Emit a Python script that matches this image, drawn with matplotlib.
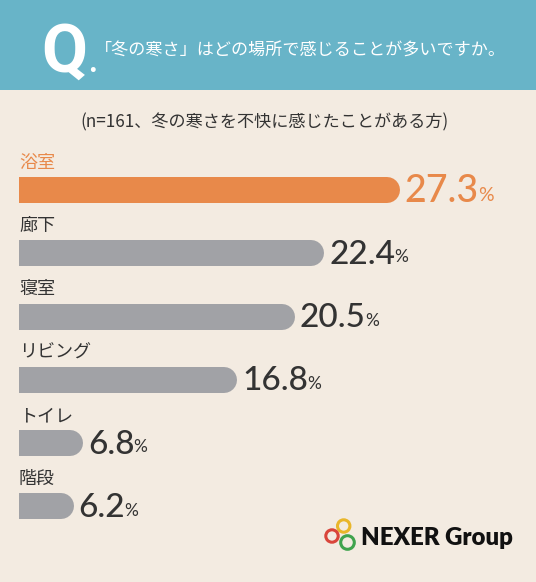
import matplotlib
matplotlib.use("Agg")
import matplotlib.pyplot as plt
from matplotlib.patches import Rectangle, Circle

plt.rcParams['font.family'] = ['Noto Sans CJK JP', 'DejaVu Sans']

# ---------------- data ----------------
categories = ["浴室", "廊下", "寝室", "リビング", "トイレ", "階段"]
values = [27.3, 22.4, 20.5, 16.8, 6.8, 6.2]
question = "「冬の寒さ」はどの場所で感じることが多いですか。"
subtitle = "(n=161、冬の寒さを不快に感じたことがある方)"

BG = "#f3ebe1"
HEADER = "#68b4c8"
ORANGE = "#e8894a"
GRAY = "#a1a2a6"
DARK = "#333333"

W, H = 536, 582
fig = plt.figure(figsize=(W / 100, H / 100), dpi=100, facecolor=BG)

# header band
fig.patches.append(Rectangle((0, 1 - 90 / H), 1, 90 / H, transform=fig.transFigure,
                             facecolor=HEADER, edgecolor="none", zorder=0))
fig.text(41 / W, 1 - 72 / H, "Q", color="white", fontsize=48, fontweight="bold",
         family=["Roboto", "DejaVu Sans"], ha="left", va="baseline")
fig.text(88 / W, 1 - 72 / H, ".", color="white", fontsize=22, fontweight="bold",
         family=["Roboto", "DejaVu Sans"], ha="left", va="baseline")
fig.text(95 / W, 1 - 51 / H, question, color="white", fontsize=12.3,
         ha="left", va="center")
fig.text(0.5 - 3 / W, 1 - 122 / H, subtitle, color=DARK, fontsize=12.3,
         ha="center", va="center")

# bars: the visible bar area starts at pixel 19, the value axis is offset
left_px = 19
px_per_unit = 15.455
x_min = 3.51
ax = fig.add_axes([left_px / W, 1 - 569.8 / H, (W - left_px) / W, 443.1 / H])
ax.set_facecolor("none")
ax.set_xlim(x_min, x_min + (W - left_px) / px_per_unit)
ax.set_ylim(6, -1)
ax.axis("off")

bar_lw = 26 * 0.72
for i, (cat, v) in enumerate(zip(categories, values)):
    color = ORANGE if i == 0 else GRAY
    ax.plot([0, v], [i, i], color=color, linewidth=bar_lw, solid_capstyle="round")
    ax.text(x_min, i - 0.43, cat, color=ORANGE if i == 0 else DARK, fontsize=13,
            ha="left", va="center", clip_on=False)
    num = ax.annotate(f"{v:.1f}", xy=(v, i), xytext=(13, -1), textcoords="offset points",
                      fontsize=27 if i == 0 else 24, color=ORANGE if i == 0 else DARK,
                      family=["Lato", "DejaVu Sans"], fontweight="medium",
                      ha="left", va="center", annotation_clip=False)
    ax.annotate("%", xy=(1, 0.14), xycoords=num, xytext=(-0.5, 0), textcoords="offset points",
                fontsize=14 if i == 0 else 12.5, color=ORANGE if i == 0 else DARK,
                family=["Lato", "DejaVu Sans"], ha="left", va="bottom")

# logo
logo_rings = [((343.7, 526), 6.2, "#e9b62a"), ((332, 536), 6.2, "#d9453b"),
              ((347.5, 542.5), 6.8, "#3fa34d")]
for (cx, cy), r, c in logo_rings:
    fig.patches.append(Circle((cx, H - cy), r, transform=None, fill=False,
                              edgecolor=c, linewidth=2.2))
fig.text(361 / W, 1 - 538 / H, "NEXER Group", color="#111111", fontsize=17.3,
         fontweight="heavy", family=["Lato", "DejaVu Sans"], ha="left", va="center")

fig.savefig("out.png", dpi=100, facecolor=BG)
